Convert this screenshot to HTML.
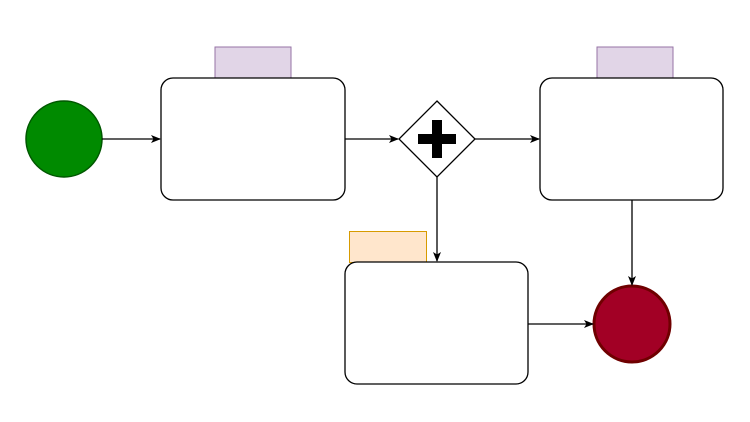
<!DOCTYPE html>
<html><head><meta charset="utf-8"><style>html,body{margin:0;padding:0;background:#fff;}svg{display:block}</style></head>
<body>
<svg width="750" height="422" viewBox="0 0 750 422" xmlns="http://www.w3.org/2000/svg">
<defs>
<marker id="a" markerWidth="10" markerHeight="8" refX="9" refY="4" orient="auto" markerUnits="userSpaceOnUse">
<path d="M0,0 L10,4 L0,8 L2.5,4 Z" fill="#000"/>
</marker>
</defs>
<rect width="750" height="422" fill="#fff"/>
<!-- tabs -->
<rect x="215" y="47" width="76" height="31" fill="#e1d5e7" stroke="#9673a6" stroke-width="1"/>
<rect x="597" y="47" width="76" height="31" fill="#e1d5e7" stroke="#9673a6" stroke-width="1"/>
<rect x="349.5" y="231.5" width="77" height="31" fill="#ffe6cc" stroke="#d79b00" stroke-width="1"/>
<!-- tasks -->
<rect x="161" y="78" width="184" height="122" rx="12" fill="#fff" stroke="#000" stroke-width="1.3"/>
<rect x="540" y="78" width="183" height="122" rx="12" fill="#fff" stroke="#000" stroke-width="1.3"/>
<rect x="345" y="262" width="183" height="122" rx="12" fill="#fff" stroke="#000" stroke-width="1.3"/>
<!-- start -->
<circle cx="64" cy="139" r="38" fill="#008a00" stroke="#005700" stroke-width="1.5"/>
<!-- end -->
<circle cx="632" cy="324" r="38" fill="#a20025" stroke="#6f0000" stroke-width="3"/>
<!-- gateway -->
<polygon points="437,101 475,139 437,177 399,139" fill="#fff" stroke="#000" stroke-width="1.3"/>
<path d="M432,120 h10 v14 h14 v10 h-14 v14 h-10 v-14 h-14 v-10 h14 z" fill="#000"/>
<!-- edges -->
<g stroke="#000" stroke-width="1.3" fill="none" marker-end="url(#a)">
<line x1="102" y1="139" x2="160" y2="139"/>
<line x1="345" y1="139" x2="398" y2="139"/>
<line x1="475" y1="139" x2="539" y2="139"/>
<line x1="437" y1="177" x2="437" y2="261"/>
<line x1="632" y1="200" x2="632" y2="285"/>
<line x1="528" y1="324" x2="593" y2="324"/>
</g>
</svg>
</body></html>
